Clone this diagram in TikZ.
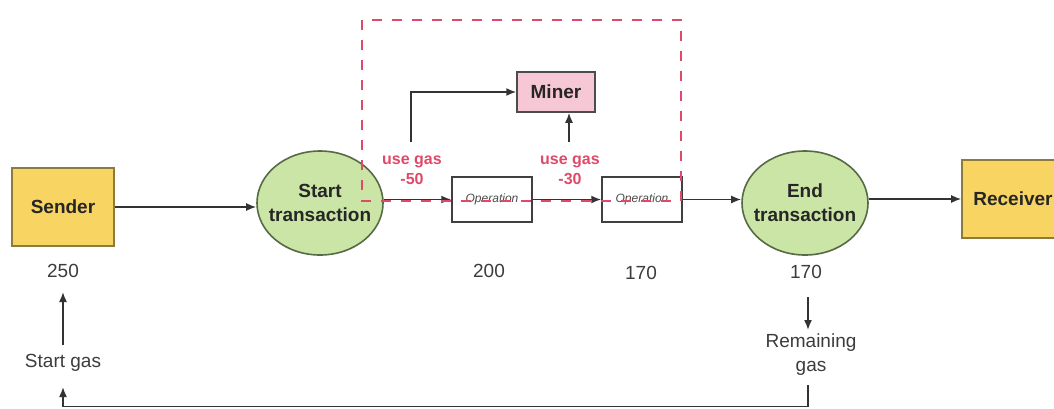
\documentclass[tikz,border=0pt]{standalone}
\usepackage{fontspec}
\setmainfont{Liberation Sans}
\usetikzlibrary{arrows.meta,shapes.geometric}
\definecolor{yel}{HTML}{F8D462}
\definecolor{yelb}{HTML}{8C7B3E}
\definecolor{grn}{HTML}{CBE5A6}
\definecolor{grnb}{HTML}{566B45}
\definecolor{pnk}{HTML}{F6C8D5}
\definecolor{redd}{HTML}{E04A6A}
\definecolor{txt}{HTML}{3C3C3C}
\begin{document}
\begin{tikzpicture}[x=1pt,y=-1pt,
 box/.style={draw=yelb, line width=1.6pt, fill=yel, minimum width=102pt, minimum height=78pt, font=\fontsize{19}{22}\selectfont\bfseries, text=black!85},
 ell/.style={ellipse, draw=grnb, line width=1.6pt, fill=grn, minimum width=126pt, minimum height=104pt, inner sep=0pt},
 elltext/.style={align=center, font=\fontsize{19}{24}\selectfont\bfseries, text=black!85},
 opbox/.style={draw=black!75, line width=1.5pt, fill=white, minimum width=80pt, minimum height=45pt, font=\fontsize{12}{14}\selectfont\itshape, text=black!70},
 minerbox/.style={draw=black!70, line width=1.5pt, fill=pnk, minimum width=78pt, minimum height=40pt, font=\fontsize{19}{22}\selectfont\bfseries, text=black!85},
 lbl/.style={font=\fontsize{19}{24}\selectfont, text=txt, align=center},
 redlbl/.style={font=\fontsize{16}{20}\selectfont\bfseries, text=redd, align=center},
 arr/.style={-{Latex[length=10pt,width=8pt]}, line width=1.6pt, draw=black!80},
 ln/.style={line width=1.6pt, draw=black!80},
 reddash/.style={draw=redd, line width=2.6pt, dash pattern=on 10pt off 10pt}
]
\useasboundingbox[fill=white] (0,0) rectangle (1054,408);

% main nodes
\node[box] (sender) at (63,207) {Sender};
\node[ell, label={[elltext]center:{Start\\transaction}}] (st) at (320,203) {};
\node[opbox] (op1) at (492,199.5) {Operation};
\node[opbox] (op2) at (642,199.5) {Operation};
\node[ell, label={[elltext]center:{End\\transaction}}] (en) at (805,203) {};
\node[box] (rec) at (1013,199) {Receiver};
\node[minerbox] (miner) at (556,92) {Miner};

% labels
\node[lbl] (n250) at (63,271) {250};
\node[lbl] (n200) at (489,271) {200};
\node[lbl] (n170a) at (641,273) {170};
\node[lbl] (n170b) at (806,272) {170};
\node[lbl] (sg) at (63,363) {Start gas};
\node[lbl] (rg) at (811,355) {Remaining\\gas};
\node[redlbl] (ug1) at (412,170) {use gas\\-50};
\node[redlbl] (ug2) at (570,170) {use gas\\-30};

% coordinates for free ends
\coordinate (c1) at (411,142);
\coordinate (c2) at (569,142);
\coordinate (a1) at (63,345);
\coordinate (a2) at (63,292);
\coordinate (b1) at (808,297);
\coordinate (b2) at (808,330);
\coordinate (b3) at (808,385);
\coordinate (b4) at (808,406.5);
\coordinate (b5) at (63,406.5);
\coordinate (b6) at (63,387);

% connectors
\draw[arr] (sender.east) -- (sender.east -| st.west);
\draw[arr] (op1.west -| st.east) -- (op1.west);
\draw[arr] (op1.east) -- (op2.west);
\draw[arr] (op2.east) -- (op2.east -| en.west);
\draw[arr] (rec.west -| en.east) -- (rec.west);
\draw[arr] (c1) |- (miner.west);
\draw[arr] (c2) -- (c2 |- miner.south);
\draw[arr] (a1) -- (a2);
\draw[arr] (b1) -- (b2);
\draw[arr] (b3) -- (b4) -- (b5) -- (b6);

% red dashed region
\draw[reddash] (362,20) rectangle (681,201);
\end{tikzpicture}
\end{document}
